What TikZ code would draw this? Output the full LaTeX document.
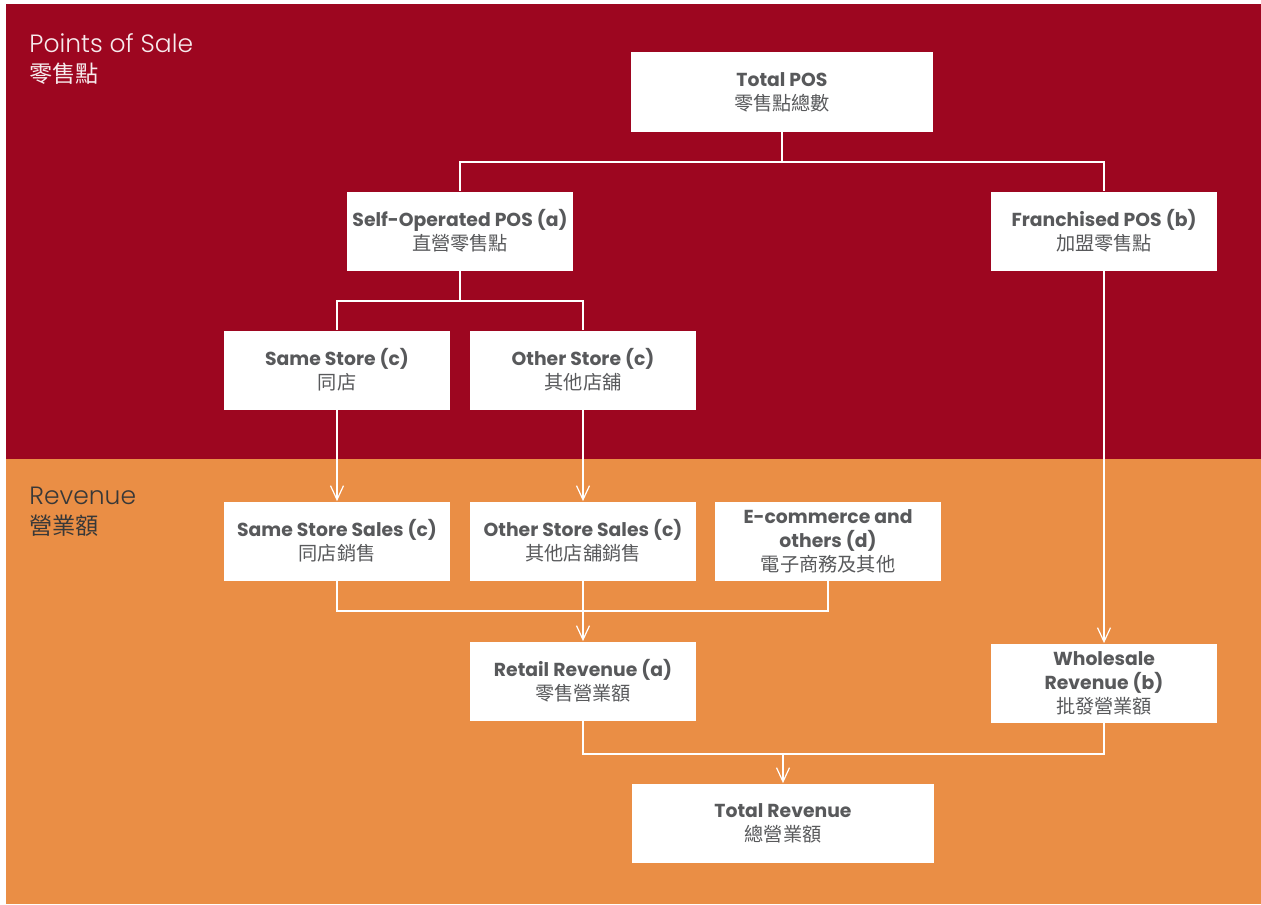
\documentclass[tikz,border=0pt]{standalone}
\usepackage{fontspec}
\setmainfont{Poppins}
\newfontfamily\cjk{Noto Sans CJK TC}
\newfontfamily\thin{Poppins Light}
\usepackage{xcolor}
\usetikzlibrary{arrows.meta}
\definecolor{posred}{RGB}{157,6,32}
\definecolor{revorange}{RGB}{234,142,69}
\definecolor{boxtext}{RGB}{88,89,91}
\newcommand{\eng}{\fontsize{9.4}{10.6}\selectfont\bfseries}
\newcommand{\zh}{\fontsize{9.6}{11.6}\selectfont\mdseries\cjk}
\newcommand{\lbl}[2]{\eng #1\\\zh #2}
\newcommand{\headline}[2]{\thin\fontsize{12.5}{15}\selectfont #1\\[3pt]\cjk\fontsize{11.6}{14}\selectfont #2}

\begin{document}
\begin{tikzpicture}[x=0.5pt,y=-0.5pt,
  box/.style={fill=white,text=boxtext,align=center,inner sep=0pt,minimum width=113pt,minimum height=39.5pt},
  wide/.style={box,minimum width=151pt},
  link/.style={draw=white,line width=0.6pt},
  arr/.style={link,-{Straight Barb[length=7pt,width=6.5pt]}},
  head/.style={anchor=north west,align=left,inner sep=0pt}]
\useasboundingbox (0,0) rectangle (1261,904);
% backgrounds
\fill [color=posred] (6,4) rectangle (1261,459);
\fill [color=revorange] (6,459) rectangle (1261,904);
\node[head,text=white!92!posred] (postitle) at (29,33) {\headline{Points of Sale}{零售點}};
\node[head,text=black!78] (revtitle) at (29,487) {\headline{Revenue}{營業額}};

% points of sale
\node[wide] (tpos) at (782,92) {\lbl{Total POS}{零售點總數}};
\node[box] (selfop) at (460,231) {\lbl{Self-Operated POS (a)}{直營零售點}};
\node[box] (fran) at (1104,231) {\lbl{Franchised POS (b)}{加盟零售點}};
\node[box] (same) at (337,370) {\lbl{Same Store (c)}{同店}};
\node[box] (other) at (583,370) {\lbl{Other Store (c)}{其他店舖}};

% revenue
\node[box] (samesales) at (337,541) {\lbl{Same Store Sales (c)}{同店銷售}};
\node[box] (othersales) at (583,541) {\lbl{Other Store Sales (c)}{其他店舖銷售}};
\node[box] (ecom) at (828,541) {\eng E-commerce and\\\eng others (d)\\\zh 電子商務及其他};
\node[box] (retail) at (583,681) {\lbl{Retail Revenue (a)}{零售營業額}};
\node[box] (whole) at (1104,683) {\eng Wholesale\\\eng Revenue (b)\\\zh 批發營業額};
\node[wide] (totrev) at (783,823) {\lbl{Total Revenue}{總營業額}};

% connectors
\coordinate (split1) at (782,162);
\coordinate (split2) at (460,301);
\coordinate (join1) at (583,611);
\coordinate (join2) at (783,754);
\draw [link] (tpos.south) -- (split1) -| (selfop.north);
\draw [link] (split1) -| (fran.north);
\draw [link] (selfop.south) -- (split2) -| (same.north);
\draw [link] (split2) -| (other.north);
\draw [arr] (same) -- (samesales);
\draw [arr] (other) -- (othersales);
\draw [arr] (fran) -- (whole);
\draw [link] (samesales.south) |- (join1) -| (ecom.south);
\draw [arr] (othersales) -- (retail);
\draw [link] (retail.south) |- (join2) -| (whole.south);
\draw [arr] (join2) -- (totrev);
\end{tikzpicture}
\end{document}
